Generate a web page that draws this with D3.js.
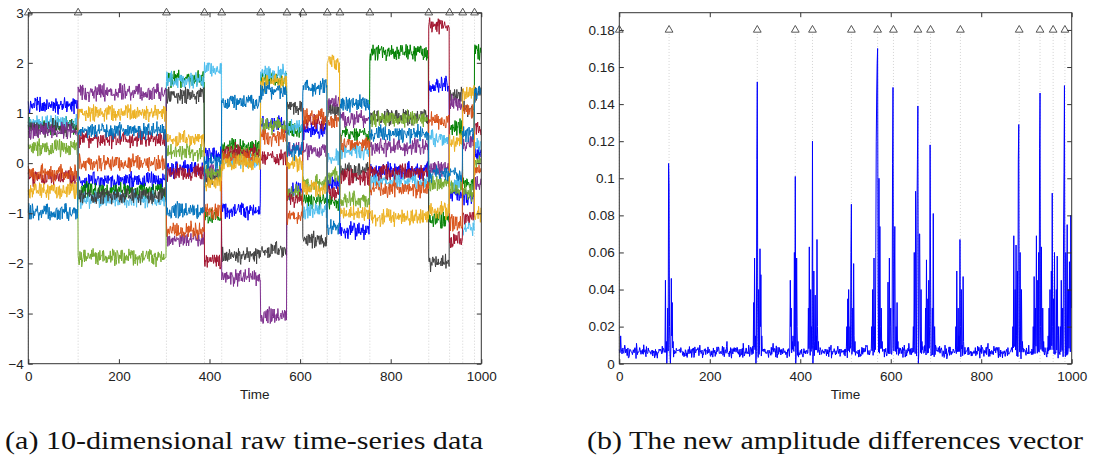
<!DOCTYPE html>
<html>
<head>
<meta charset="utf-8">
<script src="https://cdn.jsdelivr.net/npm/d3@7"></script>
<style>
  body { margin: 0; background: #fff; }
  svg { display: block; }
  .tick text { font-family: "Liberation Sans", Arial, sans-serif; font-size: 13.5px; fill: #222; }
  .tick line { stroke: #333; }
</style>
</head>
<body>
<script>
var w = 1097;
var h = 461;

// change points (triangles) on the time axis
var changePoints = [0, 110, 305, 389, 427, 513, 571, 606, 660, 688, 754, 884, 930, 959, 985];

// segment level of each series between change points
var seriesColors = ["#0000ff", "#008000", "#4dbeee", "#404040", "#7e2f8e",
                    "#77ac30", "#a2142f", "#d95319", "#edb120", "#0072bd"];
var seriesLevels = [
  [1.15, -0.35, -0.11, 0.17, -0.94, 0.78, -0.55, 0.65, -0.41, -1.34, -0.15, 1.55, -0.61, -0.68, 0.2],
  [0.75, -0.55, 1.68, -1.08, 0.32, 1.68, 0.65, -0.74, -0.78, 0.58, 2.21, -1.14, 0.72, -0.41, 2.21],
  [0.8, -0.72, 1.65, 1.88, 0.05, 1.78, 0.72, -0.94, 0.12, 0.25, -0.35, 0.49, -0.41, -1.31, 0.4],
  [0.7, -0.65, 1.35, -0.28, -1.84, -1.74, 1.12, -1.54, 1.02, -0.15, 0.92, -1.97, 1.35, 1.1, 1.35],
  [0.65, 1.41, -1.52, -0.15, -2.27, -3.05, 0.3, 0.25, 1.22, 0.88, 0.32, -0.1, 1.18, 0.39, -0.41],
  [0.3, -1.87, 0.22, -0.2, 0.2, 0.75, -0.6, -0.41, -0.25, -0.74, 0.88, -0.41, -0.5, -0.6, 0.02],
  [-0.28, 0.48, -0.2, -1.94, 0.22, 0.12, -0.72, 0.82, -0.58, -0.28, -0.18, 2.74, -1.54, -1.08, 0.72],
  [-0.2, 0.0, -1.35, -0.95, 0.09, 0.52, -1.05, 0.92, 0.85, 0.39, -0.51, 0.85, -1.21, 1.05, -0.15],
  [-0.55, 1.0, 0.48, -0.4, 0.0, 1.61, 0.0, -0.5, 2.01, -1.0, -1.08, -0.94, 0.42, 1.42, -1.04],
  [-0.98, 0.65, -0.95, 0.02, 1.22, 1.45, 0.25, 1.51, -1.28, 1.18, 0.58, -0.21, -0.21, 0.58, 1.45]
];

// hand typed jitter tables for the noisy look of the samples
var jitterA = [0.3,-0.7,0.9,-0.2,0.5,-1.0,0.1,0.8,-0.5,0.2,-0.9,0.6,-0.3,0.7,-0.1,-0.6,
               1.0,-0.4,0.4,-0.8,0.0,0.9,-0.7,0.3,-0.2,0.6,-1.0,0.5,0.2,-0.5,0.8,-0.3,
               -0.9,0.4,0.1,-0.6,0.7,-0.1,0.3,-0.8,0.9,-0.4,0.0,0.6,-0.7,0.2,-0.2,1.0,
               -0.5,0.4,-0.9,0.5,-0.3,0.8,-0.6,0.1,0.7,-1.0,0.3,-0.1,0.6,-0.4,0.2,-0.8];
var jitterB = [0.5,-0.3,-0.8,0.2,0.9,-0.6,0.1,-0.1,0.7,-0.9,0.4,0.0,-0.5,0.8,-0.2,0.3,
               -0.7,0.6,-0.4,1.0,-1.0,0.2,0.5,-0.3,-0.6,0.9,0.1,-0.8,0.4,-0.2,0.7,-0.5,
               0.0,0.3,-0.9,0.6,-0.1,0.8,-0.4,0.2,-0.7];

// amplitude differences vector: spikes [time, value], rest is baseline
var ampBase = 0.0064;
var ampSpikes = [
  [3,0.015],[12,0.01],[38,0.011],[178,0.01],[238,0.012],[274,0.011],[286,0.01],[340,0.011],
  [468,0.01],[545,0.01],[640,0.011],[720,0.01],[800,0.01],[815,0.011],[905,0.01],
  [102,0.045],[104,0.012],[105,0],[107,0.03],[109,0.108],[110,0.095],[111,0.02],[113,0],
  [115,0.046],[116,0.015],[117,0.033],[119,0.012],
  [297,0.033],[299,0.057],[301,0.015],[302,0],[304,0.11],[305,0.152],[306,0.03],[308,0.04],
  [309,0.005],[311,0.062],[312,0.02],[313,0.048],[315,0.015],
  [378,0.045],[379,0.02],[380,0.03],[382,0.012],[384,0.015],[387,0.06],[389,0.101],[390,0],
  [392,0.057],[393,0.02],[395,0.012],
  [418,0.03],[420,0.063],[421,0.01],[423,0.04],[425,0.02],[427,0.12],[428,0],[430,0.05],
  [432,0.012],[433,0.037],[435,0.015],[437,0.067],[438,0.02],[440,0.012],
  [503,0.02],[505,0.035],[507,0.04],[508,0.01],[510,0.02],[512,0.06],[513,0.086],[514,0.005],
  [516,0.03],[518,0.054],[519,0.015],[521,0.012],
  [558,0.02],[560,0.04],[562,0.015],[563,0.057],[565,0.02],[567,0.06],[568,0.12],[569,0.146],
  [570,0.162],[571,0.17],[572,0.04],[574,0.1],[576,0.074],[577,0.02],[579,0.03],[581,0.012],
  [594,0.044],[596,0.012],[597,0.057],[599,0.02],[600,0.03],[602,0.005],[604,0.108],[605,0.149],
  [606,0.03],[608,0.05],[609,0.074],[610,0.01],[612,0.02],[614,0.033],[616,0.012],
  [650,0.02],[652,0.06],[653,0.01],[655,0.093],[656,0.03],[658,0.08],[659,0.11],[660,0.139],
  [661,0],[663,0.07],[664,0.07],[665,0.02],[667,0.04],[669,0.012],
  [677,0.03],[679,0.056],[680,0.01],[682,0.035],[684,0.045],[686,0.02],[687,0.118],[688,0.05],
  [690,0.005],[692,0.03],[694,0.081],[695,0.015],[697,0.02],[699,0.01],
  [744,0.02],[746,0.05],[747,0.01],[749,0.03],[751,0.015],[753,0.067],[754,0.02],[756,0.04],
  [758,0.01],[760,0.047],[761,0.012],
  [870,0.02],[872,0.069],[873,0.01],[875,0.04],[877,0.064],[878,0.015],[880,0.05],[882,0.11],
  [883,0.129],[884,0.02],[886,0.06],[887,0.01],[889,0.04],[891,0.012],
  [915,0.02],[917,0.047],[918,0.01],[920,0.03],[922,0.069],[923,0.015],[925,0.045],[927,0.06],
  [929,0.116],[930,0.146],[931,0.02],[933,0.063],[934,0.01],[936,0.03],[938,0.012],
  [948,0.015],[950,0.03],[952,0.04],[953,0.01],[955,0.05],[957,0.092],[958,0.02],[960,0.035],
  [962,0.06],[963,0.005],[966,0.04],[968,0.058],[969,0.015],[971,0.02],
  [975,0.02],[977,0.045],[978,0.01],[980,0.03],[982,0.07],[983,0.103],[984,0.15],[985,0.02],
  [987,0.06],[988,0.01],[990,0.075],[991,0.005],[993,0.04],[995,0.055],[996,0.02],[998,0.08],[999,0.03]
];

// tick values
var timeTicks = [0, 200, 400, 600, 800, 1000];
var rawTicks = [-4, -3, -2, -1, 0, 1, 2, 3];
var ampTicks = [0, 0.02, 0.04, 0.06, 0.08, 0.1, 0.12, 0.14, 0.16, 0.18];

var captions = ["(a) 10-dimensional raw time-series data", "(b) The new amplitude differences vector"];

var svg = d3.select("body").append("svg").attr("width", w).attr("height", h);
svg.append("rect").attr("width", w).attr("height", h).attr("fill", "#fff");

var times = d3.range(0, 1000);
function jit(i, s) {
  return jitterA[(i * 5 + s * 11) % jitterA.length] + jitterB[(i * 3 + s * 7) % jitterB.length];
}
function segIndex(t) {
  return d3.bisectRight(changePoints, t) - 1;
}

// draws box, inward ticks, labels, change point markers
function drawFrame(g, x, y, yTicks, yFormat, markY) {
  var x0 = x.range()[0], x1 = x.range()[1];
  var y0 = y.range()[0], y1 = y.range()[1];

  // dotted lines at change points
  g.selectAll(".cp").data(changePoints).enter().append("line")
    .attr("x1", function(d) { return x(d); })
    .attr("x2", function(d) { return x(d); })
    .attr("y1", y(markY) + 4)
    .attr("y2", y0)
    .attr("stroke", "#c8c8c8")
    .attr("stroke-width", 0.8)
    .attr("stroke-dasharray", "1,2");

  return function() {
    g.append("g").attr("transform", "translate(0," + y0 + ")")
      .call(d3.axisBottom(x).tickValues(timeTicks).tickSize(-4.5).tickSizeOuter(0).tickPadding(8).tickFormat(d3.format("d")))
      .call(function(a) { a.select(".domain").remove(); });
    g.append("g").attr("transform", "translate(0," + y1 + ")")
      .call(d3.axisTop(x).tickValues(timeTicks).tickSize(-4.5).tickSizeOuter(0).tickFormat(""))
      .call(function(a) { a.select(".domain").remove(); });
    g.append("g").attr("transform", "translate(" + x0 + ",0)")
      .call(d3.axisLeft(y).tickValues(yTicks).tickSize(-4.5).tickSizeOuter(0).tickPadding(4.5).tickFormat(yFormat))
      .call(function(a) { a.select(".domain").remove(); });
    g.append("g").attr("transform", "translate(" + x1 + ",0)")
      .call(d3.axisRight(y).tickValues(yTicks).tickSize(-4.5).tickSizeOuter(0).tickFormat(""))
      .call(function(a) { a.select(".domain").remove(); });

    g.append("rect")
      .attr("x", x0).attr("y", y1)
      .attr("width", x1 - x0).attr("height", y0 - y1)
      .attr("fill", "none").attr("stroke", "#333").attr("stroke-width", 1);

    g.selectAll(".tri").data(changePoints).enter().append("path")
      .attr("d", d3.symbol(d3.symbolTriangle, 26))
      .attr("transform", function(d) { return "translate(" + x(d) + "," + y(markY) + ")"; })
      .attr("fill", "none")
      .attr("stroke", "#444")
      .attr("stroke-width", 0.9);

    g.append("text")
      .attr("x", (x0 + x1) / 2)
      .attr("y", 399)
      .attr("text-anchor", "middle")
      .style("font-family", "'Liberation Sans', Arial, sans-serif")
      .style("font-size", "13.5px")
      .style("fill", "#222")
      .text("Time");
  };
}

// ---- panel (a) ----
var xA = d3.scaleLinear().domain([0, 1000]).range([28.3, 481.3]);
var yA = d3.scaleLinear().domain([-4, 3]).range([363.7, 12.7]);
var gA = svg.append("g");
var finishA = drawFrame(gA, xA, yA, rawTicks, d3.format("d"), 3);

var lineA = d3.line()
  .x(function(d) { return xA(d[0]); })
  .y(function(d) { return yA(d[1]); });

seriesLevels.forEach(function(levels, s) {
  var pts = times.map(function(t) {
    return [t, levels[segIndex(t)] + 0.1 * jit(t, s)];
  });
  gA.append("path")
    .datum(pts)
    .attr("d", lineA)
    .attr("fill", "none")
    .attr("stroke", seriesColors[s])
    .attr("stroke-width", 1)
    .attr("stroke-linejoin", "round");
});
finishA();

// ---- panel (b) ----
var xB = d3.scaleLinear().domain([0, 1000]).range([619.3, 1071.7]);
var yB = d3.scaleLinear().domain([0, 0.1893]).range([363.7, 12.7]);
var gB = svg.append("g");
var finishB = drawFrame(gB, xB, yB, ampTicks, function(d) { return d === 0 ? "0" : d3.format("~g")(d); }, 0.18);

var spikeMap = new Map(ampSpikes.map(function(d) { return [d[0], d[1]]; }));
var ampPts = times.map(function(t) {
  var v = spikeMap.has(t) ? spikeMap.get(t) : Math.max(0.0025, ampBase + 0.0019 * jit(t, 3));
  return [t, v];
});

gB.append("path")
  .datum(ampPts)
  .attr("d", d3.line().x(function(d) { return xB(d[0]); }).y(function(d) { return yB(d[1]); }))
  .attr("fill", "none")
  .attr("stroke", "#0000ff")
  .attr("stroke-width", 1)
  .attr("stroke-linejoin", "round");
finishB();

// ---- captions ----
svg.selectAll(".caption").data(captions).enter().append("text")
  .attr("x", function(d, i) { return i === 0 ? 5 : 587; })
  .attr("y", 449)
  .attr("textLength", function(d, i) { return i === 0 ? 478 : 496; })
  .attr("lengthAdjust", "spacingAndGlyphs")
  .style("font-family", "'Liberation Serif', 'Times New Roman', serif")
  .style("font-size", "25px")
  .style("fill", "#111")
  .text(function(d) { return d; });
</script>
</body>
</html>
